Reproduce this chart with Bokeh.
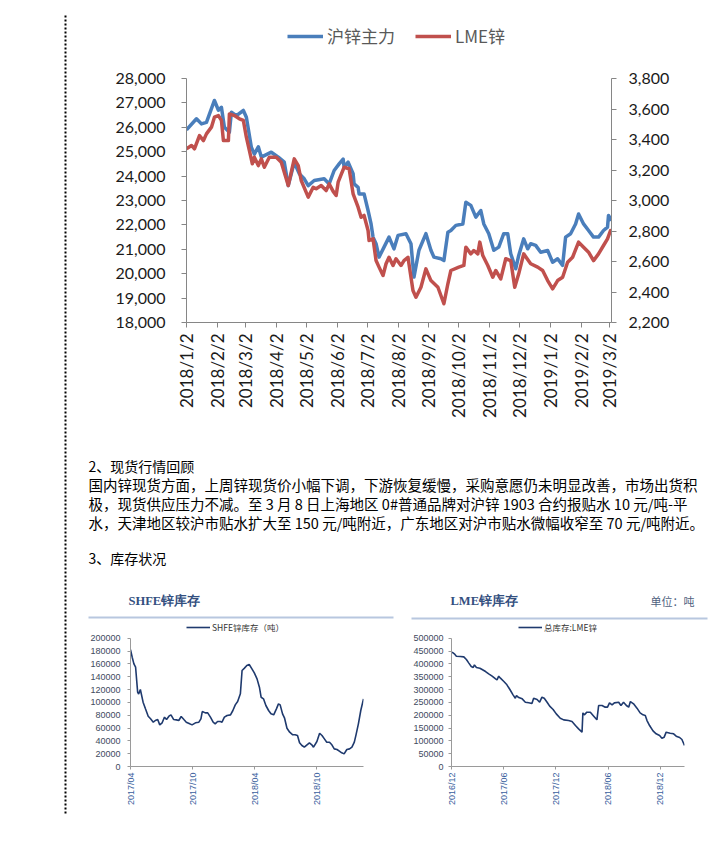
import math
from datetime import datetime
import pandas as pd
from bokeh.plotting import figure
from bokeh.models import (Range1d, LinearAxis, FixedTicker, NumeralTickFormatter,
                          Legend, LegendItem, ColumnDataSource)
from bokeh.layouts import row, column
from bokeh.embed import file_html
from bokeh.resources import INLINE
from bokeh.core.properties import value

# ---------------- data ----------------
series_names = ["沪锌主力", "LME锌"]

shfe_main_dates = ["2018-01-02","2018-01-12","2018-01-17","2018-01-22","2018-01-30","2018-02-03","2018-02-06","2018-02-09","2018-02-14","2018-02-16","2018-02-21","2018-02-28","2018-03-03","2018-03-08","2018-03-11","2018-03-15","2018-03-18","2018-03-28","2018-04-04","2018-04-10","2018-04-14","2018-04-20","2018-04-25","2018-04-30","2018-05-04","2018-05-10","2018-05-20","2018-05-25","2018-05-30","2018-06-04","2018-06-08","2018-06-09","2018-06-13","2018-06-18","2018-06-19","2018-06-23","2018-06-24","2018-06-29","2018-07-03","2018-07-06","2018-07-08","2018-07-11","2018-07-14","2018-07-19","2018-07-24","2018-07-29","2018-08-02","2018-08-10","2018-08-15","2018-08-18","2018-08-23","2018-08-30","2018-09-04","2018-09-07","2018-09-14","2018-09-17","2018-09-21","2018-09-24","2018-09-29","2018-10-06","2018-10-09","2018-10-14","2018-10-19","2018-10-24","2018-10-27","2018-11-01","2018-11-06","2018-11-11","2018-11-16","2018-11-20","2018-11-23","2018-11-28","2018-12-01","2018-12-06","2018-12-10","2018-12-13","2018-12-18","2018-12-23","2018-12-30","2019-01-04","2019-01-09","2019-01-14","2019-01-17","2019-01-22","2019-01-27","2019-01-30","2019-02-04","2019-02-09","2019-02-14","2019-02-19","2019-02-24","2019-02-28","2019-03-01","2019-03-04"]
shfe_main_values = [25900,26350,26140,26200,27100,26700,26820,26000,25800,26620,26480,26690,26410,25180,24900,25200,24780,24980,24780,24570,23610,24570,24100,23890,23610,23820,23890,23680,24230,24500,24700,24360,24570,24100,23680,23540,23270,23270,22590,22040,21500,21230,20680,21090,21500,21020,21570,21640,21230,19860,20960,21640,20960,20680,20610,20540,21700,21770,21980,22040,22930,22800,22320,22590,22040,21640,20960,21090,21640,21640,20820,20200,20750,21430,21020,21230,21160,20880,20950,20470,20610,20340,21500,21640,22040,22450,22040,21770,21500,21500,21770,21910,22390,22180]

lme_main_dates = ["2018-01-02","2018-01-07","2018-01-10","2018-01-15","2018-01-19","2018-01-22","2018-01-27","2018-01-30","2018-02-03","2018-02-06","2018-02-08","2018-02-13","2018-02-14","2018-02-19","2018-02-24","2018-02-28","2018-03-03","2018-03-06","2018-03-09","2018-03-11","2018-03-15","2018-03-18","2018-03-21","2018-03-26","2018-04-02","2018-04-07","2018-04-14","2018-04-20","2018-04-24","2018-04-27","2018-05-04","2018-05-09","2018-05-12","2018-05-17","2018-05-22","2018-05-25","2018-05-29","2018-06-01","2018-06-03","2018-06-06","2018-06-09","2018-06-14","2018-06-18","2018-06-23","2018-06-26","2018-06-29","2018-07-03","2018-07-04","2018-07-08","2018-07-11","2018-07-14","2018-07-18","2018-07-21","2018-07-24","2018-07-28","2018-07-31","2018-08-05","2018-08-08","2018-08-12","2018-08-17","2018-08-20","2018-08-25","2018-08-30","2018-09-04","2018-09-11","2018-09-17","2018-09-21","2018-09-24","2018-10-02","2018-10-07","2018-10-09","2018-10-14","2018-10-17","2018-10-21","2018-10-23","2018-10-26","2018-10-31","2018-11-05","2018-11-08","2018-11-13","2018-11-18","2018-11-23","2018-11-27","2018-12-01","2018-12-06","2018-12-13","2018-12-20","2018-12-25","2018-12-30","2019-01-04","2019-01-09","2019-01-14","2019-01-19","2019-01-24","2019-01-30","2019-02-04","2019-02-09","2019-02-14","2019-02-19","2019-02-24","2019-02-28","2019-03-03","2019-03-04"]
lme_main_values = [3339,3361,3339,3426,3393,3437,3481,3546,3557,3525,3393,3393,3568,3557,3536,3525,3415,3328,3241,3284,3229,3273,3218,3284,3284,3251,3098,3273,3229,3131,3022,3087,3077,3098,3065,3109,3060,3033,3120,3170,3218,3208,3044,2956,2890,2902,2803,2738,2749,2606,2563,2508,2585,2628,2574,2618,2574,2606,2628,2410,2366,2431,2552,2475,2431,2323,2454,2541,2563,2574,2694,2650,2672,2650,2727,2639,2574,2497,2541,2486,2618,2606,2431,2519,2650,2585,2563,2541,2475,2421,2475,2497,2595,2628,2727,2694,2661,2606,2650,2705,2749,2803,2800]

main_left_ticks = [18000,19000,20000,21000,22000,23000,24000,25000,26000,27000,28000]
main_right_ticks = [2200,2400,2600,2800,3000,3200,3400,3600,3800]
main_tick_dates = ["2018-01-02","2018-02-02","2018-03-02","2018-04-02","2018-05-02","2018-06-02","2018-07-02","2018-08-02","2018-09-02","2018-10-02","2018-11-02","2018-12-02","2019-01-02","2019-02-02","2019-03-02"]
main_tick_labels = ["2018/1/2","2018/2/2","2018/3/2","2018/4/2","2018/5/2","2018/6/2","2018/7/2","2018/8/2","2018/9/2","2018/10/2","2018/11/2","2018/12/2","2019/1/2","2019/2/2","2019/3/2"]

shfe_stock_dates = ["2017-04-01","2017-04-06","2017-04-11","2017-04-16","2017-04-22","2017-04-25","2017-04-30","2017-05-08","2017-05-15","2017-05-23","2017-05-30","2017-06-07","2017-06-13","2017-06-20","2017-06-26","2017-07-03","2017-07-10","2017-07-16","2017-07-23","2017-07-29","2017-08-06","2017-08-14","2017-08-21","2017-08-28","2017-09-05","2017-09-12","2017-09-22","2017-09-29","2017-10-09","2017-10-19","2017-10-25","2017-10-29","2017-11-07","2017-11-14","2017-11-22","2017-11-30","2017-12-06","2017-12-13","2017-12-21","2017-12-26","2018-01-02","2018-01-10","2018-01-20","2018-01-27","2018-02-03","2018-02-10","2018-02-18","2018-02-23","2018-03-02","2018-03-09","2018-03-16","2018-03-24","2018-03-31","2018-04-08","2018-04-15","2018-04-20","2018-04-27","2018-05-04","2018-05-12","2018-05-19","2018-05-27","2018-06-04","2018-06-10","2018-06-15","2018-06-22","2018-06-28","2018-07-05","2018-07-13","2018-07-22","2018-07-29","2018-08-05","2018-08-11","2018-08-18","2018-08-25","2018-09-02","2018-09-09","2018-09-16","2018-09-21","2018-10-01","2018-10-09","2018-10-16","2018-10-23","2018-10-30","2018-11-07","2018-11-14","2018-11-21","2018-11-29","2018-12-06","2018-12-13","2018-12-20","2018-12-28","2019-01-05","2019-01-12","2019-01-19","2019-01-24","2019-01-31","2019-02-07","2019-02-15"]
shfe_stock_values = [182000,170400,160000,154800,116000,113000,120000,100300,89900,78400,74300,69100,71700,73200,64900,68100,76900,73200,78400,80500,73200,72700,71700,77900,73200,69100,66500,64900,68100,69100,74300,85700,83600,83600,76900,69100,66500,70100,70100,69100,76900,79500,80500,87300,96100,101300,113300,149600,153300,157400,159000,152200,146000,136600,123600,108000,105500,95100,87300,82100,80500,89900,97700,96100,82100,75300,59700,53500,49400,49400,48300,36900,32700,30100,33800,36900,33800,30100,39000,51900,48300,43100,37900,37900,33800,27500,26500,23900,21300,19700,26500,27500,30100,37900,49400,66500,87300,105500]
shfe_y_ticks = [0,20000,40000,60000,80000,100000,120000,140000,160000,180000,200000]
shfe_tick_dates = ["2017-04-01","2017-10-01","2018-04-01","2018-10-01"]
shfe_tick_labels = ["2017/04","2017/10","2018/04","2018/10"]
shfe_legend = "SHFE锌库存（吨）"

lme_stock_dates = ["2016-12-03","2016-12-11","2016-12-18","2017-01-01","2017-01-13","2017-01-22","2017-01-30","2017-02-08","2017-02-15","2017-02-19","2017-02-26","2017-03-10","2017-03-18","2017-03-30","2017-04-10","2017-04-22","2017-05-04","2017-05-09","2017-05-15","2017-05-21","2017-06-02","2017-06-11","2017-06-23","2017-07-04","2017-07-12","2017-07-16","2017-07-24","2017-08-05","2017-08-16","2017-08-28","2017-09-08","2017-09-14","2017-09-26","2017-10-05","2017-10-13","2017-10-21","2017-10-31","2017-11-09","2017-11-21","2017-12-02","2017-12-16","2017-12-28","2018-01-14","2018-01-26","2018-02-07","2018-02-18","2018-03-02","2018-03-05","2018-03-10","2018-03-19","2018-03-31","2018-04-12","2018-04-23","2018-04-29","2018-05-11","2018-05-22","2018-05-30","2018-06-06","2018-06-15","2018-06-23","2018-07-08","2018-07-16","2018-07-25","2018-08-04","2018-08-12","2018-08-18","2018-08-29","2018-09-10","2018-09-21","2018-10-01","2018-10-09","2018-10-15","2018-10-24","2018-11-05","2018-11-16","2018-11-28","2018-12-06","2018-12-14","2018-12-21","2019-01-04","2019-01-16","2019-01-25","2019-02-06","2019-02-14","2019-02-23"]
lme_stock_values = [445500,439000,429900,428600,427300,416900,403900,389600,385700,396100,385700,383100,377900,370100,361000,352000,341600,337700,352000,344200,331200,320800,300000,279200,266200,276600,268800,263600,250600,248100,245500,266200,261000,250600,270100,266200,250600,235100,222100,205200,188300,181800,179200,175300,159700,146800,133800,209100,201300,211700,211700,196100,181800,237700,237700,231200,231200,248100,240300,248100,250600,237700,250600,237700,231200,253200,244200,227300,209100,201300,198700,179200,159700,139000,127300,120800,110400,114300,133800,129900,127300,118200,113000,105200,81800]
lme_y_ticks = [0,50000,100000,150000,200000,250000,300000,350000,400000,450000,500000]
lme_tick_dates = ["2016-12-01","2017-06-01","2017-12-01","2018-06-01","2018-12-01"]
lme_tick_labels = ["2016/12","2017/06","2017/12","2018/06","2018/12"]
lme_legend = "总库存:LME锌"

heading_2 = "2、现货行情回顾"
body_lines = [
    "国内锌现货方面，上周锌现货价小幅下调，下游恢复缓慢，采购意愿仍未明显改善，市场出货积",
    "极，现货供应压力不减。至 3 月 8 日上海地区 0#普通品牌对沪锌 1903 合约报贴水 10 元/吨-平",
    "水，天津地区较沪市贴水扩大至 150 元/吨附近，广东地区对沪市贴水微幅收窄至 70 元/吨附近。",
]
heading_3 = "3、库存状况"
shfe_title = "SHFE锌库存"
lme_title = "LME锌库存"
unit_text = "单位：吨"


def ms(d):
    return pd.Timestamp(d).value // 10**6


def blank(w, h, xr, yr):
    f = figure(width=w, height=h, x_range=xr, y_range=yr, x_axis_location=None,
               y_axis_location=None, output_backend="svg", toolbar_location=None,
               min_border=0)
    f.outline_line_color = None
    f.grid.visible = False
    return f


# ---------------- left strip with the dotted rule (page pixels) ----------------
strip = blank(78, 853, Range1d(0, 78), Range1d(853, 0))
strip.segment(x0=[65], y0=[15], x1=[65], y1=[815], line_color="#000000",
              line_width=2, line_dash="2 2")

# ---------------- main chart ----------------
# the frame reaches the top of the figure so the legend can sit inside it;
# the axes are bounded to the real value span.
main = figure(width=642, height=440, x_axis_type="datetime",
              x_range=Range1d(datetime(2018, 1, 2), datetime(2019, 3, 4)),
              y_range=Range1d(18000, 31197),
              output_backend="svg", toolbar_location=None,
              min_border_left=108, min_border_right=109,
              min_border_top=0, min_border_bottom=118)
main.extra_y_ranges = {"lme": Range1d(2200, 4311.5)}
main.outline_line_color = None
main.grid.visible = False

src_a = ColumnDataSource(dict(date=pd.to_datetime(shfe_main_dates), v=shfe_main_values))
src_b = ColumnDataSource(dict(date=pd.to_datetime(lme_main_dates), v=lme_main_values))
r_a = main.line("date", "v", source=src_a, line_color="#4A7EBB", line_width=3.5,
                line_join="round")
r_b = main.line("date", "v", source=src_b, line_color="#C0504D", line_width=3.5,
                line_join="round", y_range_name="lme")

tick_ms = [ms(d) for d in main_tick_dates]
xa = main.xaxis[0]
xa.ticker = FixedTicker(ticks=tick_ms)
xa.major_label_overrides = {t: lab for t, lab in zip(tick_ms, main_tick_labels)}
xa.major_label_orientation = math.pi / 2
xa.major_label_standoff = 6
xa.major_label_text_font_size = "17px"

ya = main.yaxis[0]
ya.ticker = FixedTicker(ticks=main_left_ticks)
ya.formatter = NumeralTickFormatter(format="0,0")
ya.bounds = (main_left_ticks[0], main_left_ticks[-1])
ya.major_label_standoff = 16
ya.major_label_text_font_size = "16px"

ra = LinearAxis(y_range_name="lme", ticker=FixedTicker(ticks=main_right_ticks),
                formatter=NumeralTickFormatter(format="0,0"),
                bounds=(main_right_ticks[0], main_right_ticks[-1]))
ra.major_label_standoff = 12
ra.major_label_text_font_size = "16px"
main.add_layout(ra, "right")

for ax in (xa, ya, ra):
    ax.axis_line_color = "#868686"
    ax.major_tick_line_color = "#868686"
    ax.minor_tick_line_color = None
    ax.major_tick_in = 0
    ax.major_tick_out = 5
    ax.major_label_text_font = "Lato"
    ax.major_label_text_color = "#1a1a1a"

leg = Legend(items=[LegendItem(label=series_names[0], renderers=[r_a]),
                    LegendItem(label=series_names[1], renderers=[r_b])],
             location=(101, 274), orientation="horizontal", glyph_width=36,
             glyph_height=20, label_height=20, label_standoff=4, spacing=20,
             padding=0, margin=0, border_line_color=None, background_fill_alpha=0,
             label_text_font="Noto Sans CJK SC", label_text_font_size="17px",
             label_text_color="#595959")
main.add_layout(leg)

# ---------------- text block (data coordinates = page pixels) ----------------
txt = blank(642, 180, Range1d(78, 720), Range1d(620, 440))
cjk = value("Noto Sans CJK SC")
txt.text(x=[88, 88], y=[465, 557.5], text=[heading_2, heading_3], text_font=cjk,
         text_font_size="14px", text_color="#000000", text_baseline="middle")
txt.text(x=[88, 88, 88], y=[483.5, 502.5, 521.5], text=body_lines, text_font=cjk,
         text_font_size="14.5px", text_color="#000000", text_baseline="middle")
txt.text(x=[128, 450], y=[600, 600], text=[shfe_title, lme_title],
         text_font=value("Liberation Serif"), text_font_style="bold",
         text_font_size="12.5px", text_color="#34507F", text_baseline="middle")
txt.text(x=[650], y=[600], text=[unit_text], text_font=cjk, text_font_size="11px",
         text_color="#4F5F80", text_baseline="middle")
txt.segment(x0=[88, 411], y0=[617, 618], x1=[393, 707], y1=[617, 618],
            line_color="#B8C7DF", line_width=2)


# ---------------- small inventory charts ----------------
def small_chart(w, left, right, dates, vals, yticks, tdates, tlabels, xstart, xend,
                legend_label, legend_x, ylab_standoff):
    ymax = yticks[-1]
    # frame spans the whole height above the x axis (146 px); ticks occupy 128.3 px
    f = figure(width=w, height=233, x_axis_type="datetime",
               x_range=Range1d(xstart, xend), y_range=Range1d(0, ymax * 146 / 128.3),
               output_backend="svg", toolbar_location=None,
               min_border_left=left, min_border_right=right,
               min_border_top=0, min_border_bottom=87)
    f.outline_line_color = None
    f.grid.visible = False
    src = ColumnDataSource(dict(date=pd.to_datetime(dates), v=vals))
    r = f.line("date", "v", source=src, line_color="#1F3A6E", line_width=1.6)
    tms = [ms(d) for d in tdates]
    x = f.xaxis[0]
    x.ticker = FixedTicker(ticks=tms)
    x.major_label_overrides = {t: lab for t, lab in zip(tms, tlabels)}
    x.major_label_orientation = math.pi / 2
    x.major_label_standoff = 3
    x.major_label_text_color = "#3A5F9E"
    y = f.yaxis[0]
    y.ticker = FixedTicker(ticks=yticks)
    y.formatter = NumeralTickFormatter(format="0")
    y.bounds = (yticks[0], yticks[-1])
    y.major_label_standoff = ylab_standoff
    y.major_label_text_color = "#404A60"
    for ax in (x, y):
        ax.axis_line_color = "#9A9A9A"
        ax.major_tick_line_color = "#9A9A9A"
        ax.minor_tick_line_color = None
        ax.major_tick_in = 0
        ax.major_tick_out = 3
        ax.major_label_text_font = "Liberation Sans"
        ax.major_label_text_font_size = "9px"
    lg = Legend(items=[LegendItem(label=legend_label, renderers=[r])],
                location=(legend_x, 133), orientation="horizontal", glyph_width=24,
                glyph_height=10, label_height=10, label_standoff=2, padding=0,
                margin=0, border_line_color=None, background_fill_alpha=0,
                label_text_font="Noto Sans CJK SC", label_text_font_size="8.5px",
                label_text_color="#333333")
    f.add_layout(lg)
    return f


shfe_fig = small_chart(318, 52, 33, shfe_stock_dates, shfe_stock_values, shfe_y_ticks,
                       shfe_tick_dates, shfe_tick_labels, datetime(2017, 4, 1),
                       datetime(2019, 2, 15), shfe_legend, 56, 7)
lme_fig = small_chart(324, 55, 36, lme_stock_dates, lme_stock_values, lme_y_ticks,
                      lme_tick_dates, lme_tick_labels, datetime(2016, 12, 1),
                      datetime(2019, 2, 23), lme_legend, 67, 5)

page = row(strip,
           column(row(main, spacing=0), row(txt, spacing=0),
                  row(shfe_fig, lme_fig, spacing=0), spacing=0),
           spacing=0)

open("out.html", "w").write(file_html(page, INLINE))
